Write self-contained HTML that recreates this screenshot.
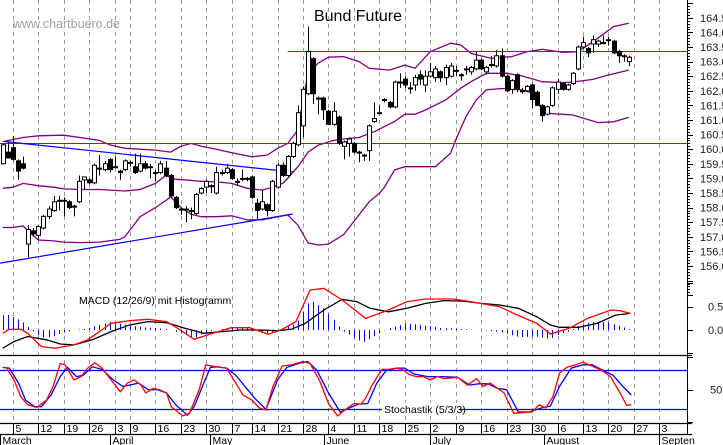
<!DOCTYPE html>
<html><head><meta charset="utf-8">
<style>
html,body{margin:0;padding:0;background:#fff;}
svg{display:block;font-family:"Liberation Sans",Arial,sans-serif;}
</style></head>
<body>
<svg id="chart" width="723" height="445" viewBox="0 0 723 445" xmlns="http://www.w3.org/2000/svg">
<rect x="0" y="0" width="723" height="445" fill="#fff"/>
<g id="grid"></g>
<g id="bands"></g>
<g id="lines"></g>
<g id="candles"></g>
<g id="macd"></g>
<g id="stoch"></g>
<g id="axes"></g>
<text x="358" y="21" font-size="16" text-anchor="middle" fill="#000">Bund Future</text>
<text x="13" y="28" font-size="12.5" fill="#a0a0a0">www.chartbuero.de</text>
<text x="79" y="304" font-size="10.5" fill="#000">MACD (12/26/9) mit Histogramm</text>
</svg>
<script>
// ---- price data (per trading day) ----
const opens=[159.5,159.9,160.05,159.6,159.5,156.75,157.2,157.05,157.3,157.7,157.9,158.25,158.25,158.2,158.05,158.2,158.95,158.95,158.85,159.35,159.3,159.65,159.4,159.25,159.3,159.55,159.4,159.25,159.5,159.4,159.2,159.2,159.35,159.1,158.35,157.95,157.95,157.9,157.8,158.5,158.7,158.75,158.5,159.2,159.2,159.3,158.9,159.0,159.0,159.05,158.15,157.95,158.1,157.9,158.7,159.45,159.1,159.75,160.15,160.8,161.9,163.1,161.75,161.75,161.3,160.85,161.1,160.1,160.2,160.2,159.9,159.8,159.95,160.95,161.25,161.7,161.6,161.45,162.3,162.4,162.1,162.2,162.55,162.2,162.5,162.45,162.65,162.45,162.5,162.7,162.55,162.75,162.65,162.75,163.05,162.65,162.9,162.85,163.2,162.5,162.05,162.55,162.0,162.0,162.2,161.95,161.5,161.2,161.5,162.05,162.25,162.05,162.25,162.75,163.5,163.45,163.6,163.6,163.65,163.75,163.7,163.35,163.2,163.0];
const highs=[160.2,160.25,160.45,159.65,159.75,157.4,157.3,157.4,157.75,158.05,158.4,158.4,158.35,158.25,158.1,159.1,159.05,159.0,159.5,159.8,159.6,159.7,159.75,159.3,159.65,159.6,159.85,159.85,159.6,159.5,159.3,159.6,159.6,159.15,158.4,158.0,158.05,158.0,158.5,158.7,158.95,158.8,159.4,159.3,159.5,159.35,159.0,159.3,159.05,159.1,158.3,158.6,158.15,158.95,159.5,159.55,159.8,160.25,161.5,162.15,164.2,163.15,161.8,161.8,161.35,161.6,161.15,160.3,160.4,160.25,159.95,159.85,160.85,161.6,161.5,161.75,161.65,162.35,162.6,162.5,162.3,162.55,162.7,162.7,162.95,162.85,162.7,162.9,162.95,162.85,162.6,162.85,162.85,163.35,163.1,162.85,163.2,163.4,163.45,162.55,162.4,162.6,162.1,162.2,162.25,162.0,161.55,161.5,162.15,162.4,162.3,162.25,162.65,163.55,163.85,163.5,163.9,163.75,163.9,163.85,163.75,163.4,163.25,163.2];
const lows=[159.5,159.7,159.6,158.95,159.3,156.3,157.0,156.9,157.25,157.6,157.85,157.9,157.7,157.95,157.7,158.15,158.6,158.8,158.8,159.1,159.25,159.2,159.35,158.95,159.25,159.4,159.15,159.2,159.3,159.0,158.9,159.15,159.05,158.35,157.95,157.75,157.5,157.6,157.75,158.45,158.5,158.5,158.45,159.1,159.15,158.95,158.75,158.9,158.9,158.3,157.6,157.9,157.7,157.85,158.65,159.05,159.05,159.7,160.1,160.4,161.85,161.55,161.2,161.0,160.85,160.8,160.15,159.65,159.75,159.85,159.55,159.6,159.6,160.9,161.2,161.6,161.4,161.4,162.1,162.1,161.9,162.0,162.2,161.95,162.45,162.3,162.3,162.2,162.45,162.5,162.35,162.55,162.55,162.7,162.7,162.55,162.8,162.8,162.45,161.95,161.9,161.95,161.9,161.95,161.4,161.5,160.95,161.15,161.45,161.9,162.0,162.0,162.2,162.7,163.45,163.15,163.3,163.5,163.6,163.55,163.25,162.95,163.0,162.85];
const closes=[160.15,159.7,159.65,159.25,159.35,157.25,157.1,157.35,157.7,157.95,158.2,158.25,158.25,158.0,158.05,158.9,159.05,158.85,159.45,159.35,159.5,159.3,159.4,159.2,159.6,159.55,159.2,159.5,159.35,159.4,159.2,159.5,159.1,158.4,158.0,157.95,157.95,157.9,158.45,158.65,158.9,158.75,159.2,159.2,159.35,159.0,158.9,159.0,159.0,158.35,157.9,158.2,157.9,158.9,159.45,159.1,159.75,160.2,161.25,162.05,163.35,161.9,161.75,161.35,160.85,161.3,160.2,160.25,160.35,159.9,159.9,159.8,160.8,161.05,161.25,161.7,161.45,162.3,162.3,162.2,162.1,162.45,162.4,162.5,162.65,162.75,162.45,162.8,162.85,162.7,162.55,162.75,162.8,163.05,162.75,162.8,162.9,163.2,162.5,162.0,162.35,162.05,162.0,162.15,161.7,161.5,161.15,161.45,162.1,162.3,162.05,162.2,162.6,163.5,163.65,163.3,163.75,163.7,163.65,163.75,163.3,163.2,163.2,163.15];

// ---- Bollinger bands (day index, price) ----
const upperIdx=[0,4,7,12,19,21,24,30,33,35,37,39,42,45,49,52,54,56,58,59,60,62,64,67,70,72,76,79,81,84,88,90,92,96,100,103,106,110,113,116,120,123];
const upperVal=[160.26,160.4,160.46,160.48,160.3,160.15,160.03,159.97,159.9,160.1,160.2,160.1,160.0,159.88,159.74,159.8,160.03,160.2,160.66,161.68,162.6,162.95,163.15,163.17,163.0,162.77,162.71,162.88,162.77,163.34,163.63,163.57,163.28,163.11,163.17,163.34,163.42,163.32,163.34,163.68,164.2,164.31];
const midIdx=[0,2,4,7,10,12,15,19,24,27,30,32,34,37,39,42,45,48,51,53,55,56,58,60,62,65,68,70,73,77,79,81,83,87,90,92,95,99,102,106,110,112,116,119,123];
const midVal=[158.66,158.7,158.83,158.75,158.7,158.64,158.62,158.62,158.57,158.62,158.83,159.1,158.97,158.93,158.9,158.88,158.83,158.66,158.6,158.7,158.83,159.0,159.4,159.9,160.14,160.3,160.37,160.4,160.6,160.95,161.2,161.2,161.34,161.68,162.09,162.31,162.6,162.6,162.51,162.31,162.28,162.3,162.39,162.54,162.71];
const lowerIdx=[0,2,4,5,7,10,12,15,19,23,24,25,27,30,32,33,35,37,39,42,45,48,51,56,58,60,62,64,67,70,72,74,75,77,79,85,88,89,91,93,95,98,102,104,106,107,112,117,120,123];
const lowerVal=[157.32,157.32,157.37,157.2,156.89,156.86,156.82,156.8,156.82,156.91,157.0,157.23,157.69,158.0,158.24,158.37,158.0,157.77,157.69,157.69,157.72,157.58,157.58,157.75,157.4,156.79,156.72,156.75,157.08,157.75,158.2,158.49,158.7,159.29,159.4,159.4,159.86,160.32,161.11,161.68,162.03,162.08,162.03,161.92,161.34,161.23,161.17,160.91,160.94,161.09];

// ---- trend / support lines ----
const resistanceLevels=[160.2,163.35];
const resistanceStartIdx=[-1,56];
const trendUpperIdx=[0.5,57];
const trendUpperVal=[160.26,159.22];
const trendLowerIdx=[-0.5,57];
const trendLowerVal=[156.1,157.78];

// ---- MACD ----
const signalIdx=[0,2.2,4.9,8.6,11.3,14,17.6,21.3,24.9,28.5,32.2,35.8,39.5,43.1,46.7,50.4,54,56.7,59.4,63.1,66.7,69.5,72.2,75.8,79.4,83.1,86.7,90.4,94,97.6,101.3,104.9,107.6,109.4,113.1,116.7,120.4,123.3];
const signalVal=[-0.39,-0.25,-0.14,-0.21,-0.30,-0.32,-0.21,-0.035,0.107,0.18,0.157,0.036,-0.07,-0.035,0,0,-0.014,0.014,0.14,0.43,0.658,0.61,0.465,0.39,0.465,0.57,0.63,0.62,0.57,0.537,0.465,0.286,0.107,0.057,0.057,0.14,0.32,0.357];
const macdIdx=[0,1.3,3.6,4.9,7.6,10.4,14,16.7,21.3,24.9,28.5,32.2,34.9,37.6,41.3,44.9,48.5,52.2,54.9,57.6,60.4,63.1,66.7,71.3,75.8,79.4,83.1,88.5,91.3,97.6,100.4,104.9,107.6,111.3,114.9,119.5,121.3,123.3];
const macdVal=[-0.07,0.014,0.014,-0.07,-0.357,-0.39,-0.32,-0.21,0.143,0.2,0.229,0.18,0,-0.2,-0.07,0.05,0.05,-0.093,0.014,0.18,0.858,0.894,0.644,0.25,0.43,0.608,0.665,0.665,0.62,0.5,0.357,0.143,-0.086,0.036,0.25,0.43,0.415,0.357];
const macdTicks=[0.5,0.0];

// ---- Stochastic ----
const kIdx=[0,0.8,2.2,3.6,4.9,6.7,8.6,9.9,11.3,12.2,14,15.4,16.7,18.1,19.5,21.3,23.1,24.5,25.8,27.2,28.1,29.5,30.8,32.2,33.1,35.4,36.7,38.6,39.9,41.3,42.6,44,45.4,47.2,49,50.4,51.7,53.1,54.9,56.7,59,60.4,62.2,64,65.8,67.2,69,70.4,71.3,72.6,74.5,75.8,77.2,78.5,79.9,81.3,82.6,84,85.4,86.7,89.4,91.3,93.1,94.4,95.8,96.7,98.5,100.4,102.2,104,105.4,106.7,108.1,109.4,110.8,112.6,114,115.8,117.6,119.4,121.3,122.6,123.5];
const kVal=[84,83,65,39,27,23,34,55,90,88,65,70,83,91,83,65,47,60,65,57,45,52,50,45,24,10,14,50,88,86,84,83,65,42,34,22,19,55,86,88,93,90,65,29,10,19,29,28,37,57,81,81,83,81,73,70,70,65,70,67,69,57,67,55,60,55,45,14,15,16,27,22,39,75,84,88,92,86,80,70,45,26,27];
const dIdx=[0,1.3,3.1,4.5,6.3,7.6,9.5,11.3,12.7,14.5,15.8,17.6,19.5,21.7,23.6,24.9,26.7,28.6,30.4,32.2,34,36.3,37.6,39.5,40.8,42.2,44,45.8,47.6,49.5,51.7,54,55.8,58.1,59.9,61.7,64,66.3,68.1,69.9,71.7,73.5,75.4,77.6,79,80.8,83.5,86.3,89.4,91.7,93.5,95.3,97.2,99,101.3,103.5,105.8,107.6,109.4,111.7,114,115.8,117.6,119.9,122.2,123.5];
const dVal=[84,83,60,34,24,24,42,70,84,70,72,85,81,65,55,57,60,50,50,45,27,11,24,60,84,85,83,72,55,37,20,65,84,90,93,80,45,16,22,28,29,60,80,83,83,74,70,70,69,57,59,59,52,50,16,16,22,25,55,83,88,88,81,72,52,42];
const stochLevels=[80,20];

// ---- axes ----
const weekIdx=[2,7,12,17,22,25,30,35,40,45,49,54,59,64,69,74,79,84,89,94,99,104,109,114,119,124,129];
const weekLabels=["5","12","19","26","3","9","16","23","30","7","14","21","28","4","11","18","25","2","9","16","23","30","6","13","20","27","3"];
const monthIdx=[-0.5,21.1,40.8,63.1,84,106.3,129];
const monthLabels=["March","April","May","June","July","August","Septen"];
const priceTicks=[164.5,164.0,163.5,163.0,162.5,162.0,161.5,161.0,160.5,160.0,159.5,159.0,158.5,158.0,157.5,157.0,156.5,156.0];

const NS="http://www.w3.org/2000/svg";
function xi(i){return 2.7+i*5.09;}
function yp(p){return 193-(p-158.5)*29.2;}
function ym(m){return 330-m*46.6;}
function ys(s){return 389.7-(s-50)*0.655;}
function mk(tag,attrs,parent){const e=document.createElementNS(NS,tag);for(const k in attrs)e.setAttribute(k,attrs[k]);parent.appendChild(e);return e;}
function pts(idx,val,fy){return idx.map((d,k)=>xi(d).toFixed(1)+","+fy(val[k]).toFixed(1)).join(" ");}
function interp(idx,val,t){if(t<=idx[0])return val[0];for(let k=1;k<idx.length;k++){if(t<=idx[k]){const f=(t-idx[k-1])/(idx[k]-idx[k-1]);return val[k-1]+f*(val[k]-val[k-1]);}}return val[val.length-1];}

const gGrid=document.getElementById('grid');
weekIdx.forEach((d,k)=>{
  const x=Math.round(xi(d))+0.5;
  const l=mk('line',{x1:x,y1:0,x2:x,y2:423,stroke:'#9a9a9a','stroke-width':1,'stroke-dasharray':'4,4'},gGrid);
  
  
});

const gB=document.getElementById('bands');
[[upperIdx,upperVal,'upper-band'],[midIdx,midVal,'middle-band'],[lowerIdx,lowerVal,'lower-band']].forEach(b=>{
  const p=mk('polyline',{points:pts(b[0],b[1],yp),fill:'none',stroke:'#800080','stroke-width':1.3},gB);
  
  
});

const gL=document.getElementById('lines');
resistanceLevels.forEach((v,k)=>{
  const y=Math.round(yp(v))+0.5;
  const l=mk('line',{x1:Math.max(0,xi(resistanceStartIdx[k])),y1:y,x2:687,y2:y,stroke:'#e00000','stroke-width':1},gL);
  
  
});
const tu=mk('polyline',{points:pts(trendUpperIdx,trendUpperVal,yp),fill:'none',stroke:'#0000ff','stroke-width':1.2},gL);


const tl=mk('polyline',{points:pts(trendLowerIdx,trendLowerVal,yp),fill:'none',stroke:'#0000ff','stroke-width':1.2},gL);



const gC=document.getElementById('candles');
closes.forEach((c,i)=>{
  const o=opens[i],x=Math.round(xi(i))+0.5;
  const w=mk('line',{x1:x,y1:yp(highs[i]),x2:x,y2:yp(lows[i]),stroke:'#000','stroke-width':1},gC);
  
  
  const top=yp(Math.max(o,c)),bot=yp(Math.min(o,c));
  const r=mk('rect',{x:x-2,y:top,width:4,height:Math.max(1,bot-top),fill:c>=o?'#fff':'#000',stroke:'#000','stroke-width':1},gC);
  
  
});

const gM=document.getElementById('macd');
for(let i=0;i<closes.length;i++){
  const diff=interp(macdIdx,macdVal,i)-interp(signalIdx,signalVal,i);
  const x=Math.round(xi(i))+0.5;
  const h=mk('line',{x1:x,y1:ym(0),x2:x,y2:ym(diff),stroke:'#0000ff','stroke-width':1},gM);
  
  
}
const sl=mk('polyline',{points:pts(signalIdx,signalVal,ym),fill:'none',stroke:'#000','stroke-width':1.3},gM);


const ml=mk('polyline',{points:pts(macdIdx,macdVal,ym),fill:'none',stroke:'#ff0000','stroke-width':1.3},gM);



const gS=document.getElementById('stoch');
stochLevels.forEach(v=>{
  const y=Math.round(ys(v))+0.5;
  const l=mk('line',{x1:0,y1:y,x2:687,y2:y,stroke:'#0000ff','stroke-width':1.2},gS);
  
  
});
const dl=mk('polyline',{points:pts(dIdx,dVal,ys),fill:'none',stroke:'#0000ff','stroke-width':1.3},gS);


const kl=mk('polyline',{points:pts(kIdx,kVal,ys),fill:'none',stroke:'#ff0000','stroke-width':1.3},gS);


const sbg=mk('rect',{x:382,y:403,width:78,height:13,fill:'#fff'},gS);


const st=mk('text',{x:384,y:413,'font-size':10.5,fill:'#000'},gS);
st.textContent='Stochastik (5/3/3)';



const gA=document.getElementById('axes');
function hl(y,x1,x2,name){const l=mk('line',{x1:x1,y1:y,x2:x2,y2:y,stroke:'#000','stroke-width':1.3},gA);}
hl(355.5,0,692,'panel-separator');
hl(423.5,0,692,'date-axis-line');
hl(434.5,0,692,'month-axis-line');
const ax=mk('line',{x1:687.5,y1:0,x2:687.5,y2:435,stroke:'#000','stroke-width':1},gA);


for(let k=0;k<=100;k++){
  const v=165.0-k*0.1,y=Math.round(yp(v))+0.5;
  if(y>300)break;
  const major=k%5===0;
  const t=mk('line',{x1:687,y1:y,x2:major?693:690,y2:y,stroke:'#000','stroke-width':1},gA);
  
  
}
priceTicks.forEach(v=>{
  const t=mk('text',{x:700,y:yp(v)+4,'font-size':11,fill:'#222'},gA);
  t.textContent=v.toFixed(1);
  
  
});
[1.0,0.5,0.0,-0.5].forEach(v=>{
  const y=Math.round(ym(v))+0.5;
  const t=mk('line',{x1:687,y1:y,x2:693,y2:y,stroke:'#000','stroke-width':1},gA);
  
  
});
macdTicks.forEach(v=>{
  const t=mk('text',{x:708,y:ym(v)+4,'font-size':11,fill:'#222'},gA);
  t.textContent=v.toFixed(1);
  
  
});
[100,50,0].forEach(v=>{
  const y=Math.round(ys(v))+0.5;
  const t=mk('line',{x1:687,y1:y,x2:693,y2:y,stroke:'#000','stroke-width':1},gA);
  
  
});
const s50=mk('text',{x:710,y:ys(50)+4,'font-size':11,fill:'#222'},gA);
s50.textContent='50';



weekIdx.forEach((d,k)=>{
  const x=Math.round(xi(d))+0.5;
  const t=mk('line',{x1:x,y1:423,x2:x,y2:434,stroke:'#000','stroke-width':1},gA);
  
  
  const tx=mk('text',{x:x+2,y:432,'font-size':10.5,fill:'#000'},gA);
  tx.textContent=weekLabels[k];
  
  
});
monthIdx.forEach((d,k)=>{
  const x=Math.max(0.5,Math.round(xi(d))+0.5);
  const t=mk('line',{x1:x,y1:434,x2:x,y2:445,stroke:'#000','stroke-width':1},gA);
  
  
  const tx=mk('text',{x:x+2,y:444,'font-size':10.5,fill:'#000'},gA);
  tx.textContent=monthLabels[k];
  
  
});
</script>
</body></html>
